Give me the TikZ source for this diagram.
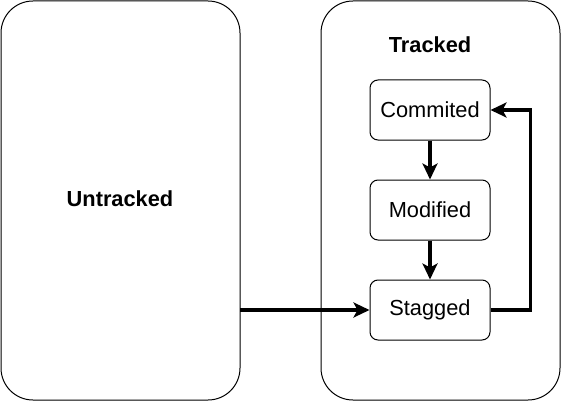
\documentclass[tikz,border=0pt]{standalone}
\usepackage{fontspec}
\setmainfont{Liberation Sans}
\usetikzlibrary{arrows.meta}
\begin{document}
\begin{tikzpicture}[x=1pt,y=-1pt,
  container/.style={draw=black,line width=1pt,rounded corners=32pt,fill=white},
  statebox/.style={draw=black,line width=1pt,rounded corners=8pt,fill=white,minimum width=120pt,minimum height=60pt,inner sep=0pt,font=\fontsize{21.8}{26}\selectfont},
  title/.style={font=\bfseries\fontsize{21.8}{26}\selectfont,inner sep=0pt},
  flow/.style={line width=3.6pt,-{Stealth[length=16pt,width=15pt,inset=4pt]}}]
\useasboundingbox (0,0) rectangle (561,401);
\draw[container] (1,1) rectangle (240,400);
\draw[container] (321,1) rectangle (560,400);
\node[title] (untracked) at (120,199) {Untracked};
\coordinate (uout) at (240,310);
\node[title] (tracked) at (430,45) {Tracked};
\node[statebox] (commited) at (430,110) {Commited};
\node[statebox] (modified) at (430,210) {Modified};
\node[statebox] (stagged) at (430,310) {Stagged};
\draw[flow] (commited) -- (modified);
\draw[flow] (modified) -- (stagged);
\draw[flow] (uout) -- (stagged);
\draw[flow] (stagged.east) -- ++(40,0) |- (commited.east);
\end{tikzpicture}
\end{document}
